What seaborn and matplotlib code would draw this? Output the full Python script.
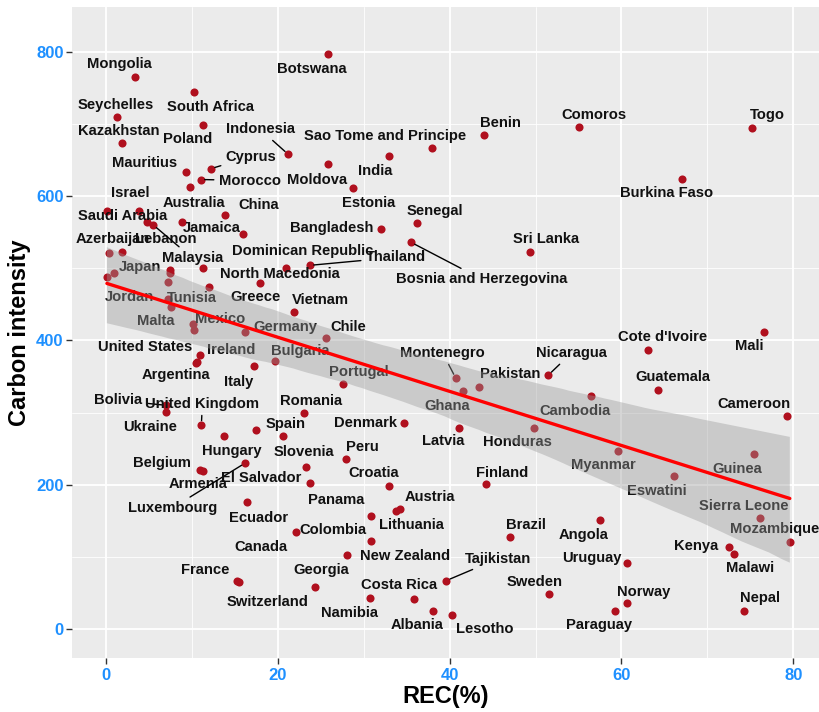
import numpy as np
import pandas as pd
import matplotlib
matplotlib.use("Agg")
import matplotlib.pyplot as plt
from matplotlib.ticker import MultipleLocator
import seaborn as sns

# ---- data ----
countries = [
    "Mongolia", "South Africa", "Botswana", "Seychelles", "Poland", "Kazakhstan",
    "Indonesia", "India", "Sao Tome and Principe", "Moldova", "Estonia", "Benin",
    "Comoros", "Togo", "Burkina Faso", "Cyprus", "Mauritius", "Morocco",
    "Australia", "Saudi Arabia", "Israel", "Lebanon", "Malaysia", "Jamaica",
    "China", "", "Senegal", "Bangladesh", "Bosnia and Herzegovina", "Sri Lanka",
    "Thailand", "Dominican Republic", "North Macedonia", "", "Greece", "Azerbaijan",
    "Japan", "Jordan", "", "", "", "",
    "Tunisia", "Malta", "", "Mexico", "Germany", "Vietnam",
    "Chile", "United States", "Ireland", "Argentina", "Italy", "Bulgaria",
    "Portugal", "Montenegro", "Ghana", "Pakistan", "Nicaragua", "Cambodia",
    "Cote d'Ivoire", "Mali", "Guatemala", "Cameroon", "Bolivia", "Ukraine",
    "United Kingdom", "Hungary", "Spain", "", "Romania", "Denmark",
    "Latvia", "Honduras", "Myanmar", "Guinea", "Eswatini", "Belgium",
    "Armenia", "Luxembourg", "Ecuador", "Slovenia", "El Salvador", "Peru",
    "Croatia", "Lithuania", "Austria", "Panama", "Canada", "Colombia",
    "New Zealand", "Finland", "Brazil", "Angola", "Uruguay", "Sierra Leone",
    "Mozambique", "Kenya", "Malawi", "France", "Switzerland", "Georgia",
    "Namibia", "Costa Rica", "Albania", "Tajikistan", "Lesotho", "Sweden",
    "Paraguay", "Norway", "Nepal",
]
rec = [
    3.4, 10.3, 25.8, 1.3, 11.3, 1.9,
    21.2, 32.9, 37.9, 25.8, 28.7, 44.0,
    55.1, 75.2, 67.0, 12.2, 9.3, 11.0,
    9.8, 0.1, 3.8, 4.8, 5.5, 8.9,
    13.8, 16.0, 36.2, 32.0, 35.5, 49.4,
    23.7, 21.0, 17.9, 11.3, 12.0, 0.4,
    1.9, 0.1, 0.9, 7.4, 7.4, 7.2,
    7.2, 7.6, 10.1, 10.2, 16.2, 21.9,
    25.6, 10.9, 10.6, 10.5, 17.2, 19.7,
    27.6, 40.7, 41.6, 43.4, 51.5, 56.5,
    63.1, 76.6, 64.2, 79.3, 7.0, 7.0,
    11.1, 13.7, 17.5, 20.6, 23.1, 34.7,
    41.1, 49.8, 59.6, 75.4, 66.1, 10.9,
    11.3, 16.2, 16.4, 23.3, 23.7, 27.9,
    32.9, 33.8, 34.2, 30.8, 22.1, 30.8,
    28.0, 44.2, 47.0, 57.5, 60.7, 76.1,
    79.6, 72.5, 73.1, 15.3, 15.5, 24.3,
    30.7, 35.8, 38.1, 39.6, 40.3, 51.6,
    59.3, 60.7, 74.3,
]
carbon = [
    765, 744, 797, 709, 698, 673,
    658, 656, 667, 644, 611, 684,
    696, 695, 624, 638, 634, 623,
    613, 579, 579, 564, 560, 564,
    574, 547, 563, 554, 536, 523,
    504, 500, 480, 500, 474, 521,
    523, 488, 493, 498, 493, 481,
    458, 446, 423, 414, 412, 439,
    403, 380, 370, 368, 365, 371,
    339, 348, 330, 336, 352, 323,
    387, 411, 331, 295, 310, 301,
    283, 267, 276, 267, 300, 285,
    279, 278, 247, 243, 212, 221,
    219, 230, 176, 224, 203, 236,
    198, 164, 167, 157, 134, 122,
    103, 201, 127, 151, 92, 154,
    120, 114, 104, 67, 65, 58,
    43, 42, 25, 67, 19, 49,
    25, 36, 25,
]

# label placement (pixels right, pixels up from the point), ggrepel-like
label_offsets = {
    "Mongolia": (-16, 13), "South Africa": (16, -15), "Botswana": (-16, -15),
    "Seychelles": (-1, 12), "Kazakhstan": (-4, 12), "Poland": (-15, -14),
    "Indonesia": (-28, 25), "Sao Tome and Principe": (-47, 12), "Benin": (16, 12),
    "Comoros": (15, 12), "Togo": (15, 13), "Mauritius": (-41, 9),
    "Cyprus": (40, 12), "Morocco": (49, -1), "Moldova": (-11, -16),
    "India": (-13, -15), "Estonia": (16, -15), "Burkina Faso": (-15, -14),
    "Israel": (-8, 18), "Saudi Arabia": (16, -5), "Australia": (4, -16),
    "China": (34, 10), "Jamaica": (29, -6), "Azerbaijan": (3, 14),
    "Lebanon": (19, -17), "Malaysia": (39, -33), "Japan": (18, -15),
    "Jordan": (23, -20), "Tunisia": (24, 1), "Greece": (46, -10),
    "Malta": (-16, -14), "Mexico": (26, 11), "Germany": (40, 5),
    "Vietnam": (26, 12), "Chile": (22, 11), "Bangladesh": (-49, 1),
    "Senegal": (18, 12), "Bosnia and Herzegovina": (71, -37), "Sri Lanka": (16, 13),
    "Thailand": (86, 8), "Dominican Republic": (16, 17), "North Macedonia": (20, 9),
    "United States": (-55, 8), "Ireland": (34, 12), "Argentina": (-20, -12),
    "Italy": (-15, -16), "Bulgaria": (25, 10), "Portugal": (16, 12),
    "Montenegro": (-13, 25), "Ghana": (-16, -15), "Pakistan": (31, 13),
    "Nicaragua": (23, 22), "Cambodia": (-16, -15), "Cote d'Ivoire": (15, 13),
    "Mali": (-15, -14), "Guatemala": (15, 13), "Cameroon": (-33, 12),
    "Bolivia": (-48, 5), "United Kingdom": (1, 21), "Ukraine": (-16, -15),
    "Hungary": (8, -15), "Spain": (29, 6), "Romania": (7, 12),
    "Denmark": (-39, 0), "Latvia": (-16, -13), "Honduras": (-16, -14),
    "Myanmar": (-15, -14), "Guinea": (-16, -15), "Eswatini": (-17, -15),
    "Belgium": (-38, 7), "Armenia": (-5, -13), "Luxembourg": (-73, -45),
    "El Salvador": (-48, 5), "Slovenia": (-2, 15), "Peru": (17, 12),
    "Croatia": (-15, 13), "Panama": (-34, 16), "Austria": (30, 12),
    "Lithuania": (15, -14), "Colombia": (-38, 11), "Canada": (-35, -15),
    "New Zealand": (59, -1), "Georgia": (6, 17), "Switzerland": (28, -20),
    "France": (-32, 11), "Ecuador": (12, -16), "Finland": (16, 11),
    "Brazil": (16, 12), "Angola": (-16, -15), "Uruguay": (-36, 5),
    "Sierra Leone": (-16, 12), "Mozambique": (-15, 13), "Kenya": (-33, 1),
    "Malawi": (16, -14), "Nepal": (16, 13), "Sweden": (-15, 12),
    "Paraguay": (-16, -14), "Norway": (16, 11), "Namibia": (-20, -15),
    "Costa Rica": (-14, 14), "Albania": (-16, -14), "Lesotho": (33, -14),
    "Tajikistan": (52, 22),
}
with_segment = {
    "Indonesia", "Cyprus", "Morocco", "Malaysia", "Thailand",
    "Bosnia and Herzegovina", "Bolivia", "United Kingdom", "Luxembourg",
    "Montenegro", "Nicaragua", "Tajikistan",
}

df = pd.DataFrame({"country": countries, "rec": rec, "carbon": carbon})

sns.set_theme(style="darkgrid", rc={
    "axes.facecolor": "#EBEBEB",
    "grid.color": "white",
})
plt.rcParams["font.family"] = ["Liberation Sans", "DejaVu Sans"]

fig = plt.figure(figsize=(8.19, 7.12), dpi=100)
ax = fig.add_axes([72 / 819, 1 - 658 / 712, (819 - 72) / 819, (658 - 7) / 712])

sns.scatterplot(data=df, x="rec", y="carbon", ax=ax, color="#B0101E",
                s=34, linewidth=0, zorder=2)

for name, x, y in zip(countries, rec, carbon):
    if name not in label_offsets:
        continue
    dx, dy = label_offsets[name]
    arrow = None
    if name in with_segment:
        arrow = dict(arrowstyle="-", color="black", lw=1, shrinkA=1, shrinkB=3)
    ax.annotate(name, xy=(x, y), xytext=(dx, dy), textcoords="offset pixels",
                ha="center", va="center", fontsize=10.6, fontweight="bold",
                color="#111111", zorder=3, arrowprops=arrow)

sns.regplot(data=df, x="rec", y="carbon", ax=ax, scatter=False, color="red",
            ci=95, n_boot=1000, seed=7, line_kws=dict(lw=2.4, zorder=5))
band = ax.collections[-1]
band.set_facecolor("#999999")
band.set_edgecolor("none")
band.set_alpha(0.4)
band.set_zorder(4)

ax.set_xlim(-3.96, 83.0)
ax.set_ylim(-40.2, 862.1)
ax.xaxis.set_major_locator(MultipleLocator(20))
ax.xaxis.set_minor_locator(MultipleLocator(10))
ax.yaxis.set_major_locator(MultipleLocator(200))
ax.yaxis.set_minor_locator(MultipleLocator(100))
ax.grid(which="major", color="white", lw=1.3)
ax.grid(which="minor", color="white", lw=0.6)
for sp in ax.spines.values():
    sp.set_visible(False)

ax.tick_params(which="major", length=4, width=1, color="#333333",
               labelcolor="#1E90FF", labelsize=12, pad=2)
ax.tick_params(which="minor", length=0)
ax.tick_params(axis="y", which="major", left=True)
ax.tick_params(axis="x", which="major", bottom=True, pad=3)
plt.setp(ax.get_xticklabels() + ax.get_yticklabels(), fontweight="bold")

ax.set_xlabel("REC(%)", fontsize=17, fontweight="bold", color="black", labelpad=2)
ax.set_ylabel("Carbon intensity", fontsize=17, fontweight="bold", color="black", labelpad=4)

fig.savefig("out.png", dpi=100)
